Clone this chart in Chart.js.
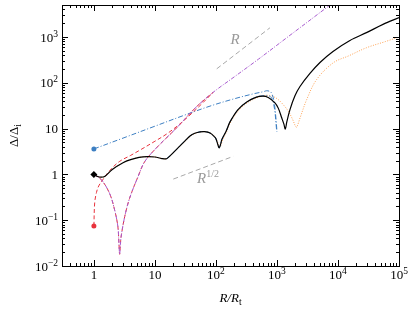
<!DOCTYPE html>
<html>
<head>
<meta charset="utf-8">
<script src="https://cdn.jsdelivr.net/npm/chart.js@4.4.1/dist/chart.umd.min.js"></script>
<style>
  html, body { margin: 0; padding: 0; background: #fff; }
</style>
</head>
<body>
<canvas id="c" width="415" height="313"></canvas>
<script>
// full solution (black)
const blackR = [1, 1.15, 1.3, 1.5, 2, 3, 4, 5.5, 7.5, 10, 13, 15.5, 18, 22, 28, 38, 45, 55, 65, 80, 95, 100, 108, 113, 120, 125, 148, 170, 230, 320, 450, 580, 720, 927, 1050, 1200, 1300, 1370, 1450, 1634, 1972, 2384, 3474, 5070, 8280, 15700, 29900, 54700, 100000];
const blackD = [1, 0.9, 0.87, 0.9, 1.28, 1.8, 2.1, 2.35, 2.45, 2.4, 2.22, 2.2, 2.6, 3.4, 4.7, 7.0, 7.9, 8.5, 8.6, 8.0, 6.6, 6.0, 4.4, 3.8, 4.7, 5.8, 9, 14, 26, 38, 48, 51, 48, 36.5, 28, 17, 12.5, 9.8, 14, 26, 52, 83, 160, 278, 484, 843, 1260, 1890, 2645];

// orange dotted
const orangeR = [1, 1.15, 1.3, 1.5, 2, 3, 4, 5.5, 7.5, 10, 13, 15.5, 18, 22, 28, 38, 45, 55, 65, 80, 95, 100, 108, 115, 122, 128, 150, 170, 230, 320, 450, 600, 750, 900, 1050, 1300, 1535, 1800, 2000, 2100, 2400, 3070, 4470, 8380, 15000, 29500, 60000, 100000];
const orangeD = [1, 0.9, 0.87, 0.9, 1.28, 1.8, 2.1, 2.35, 2.45, 2.4, 2.22, 2.2, 2.6, 3.4, 4.6, 6.8, 7.8, 8.4, 8.6, 8.1, 6.8, 6.2, 4.8, 3.9, 4.5, 5.6, 8.6, 13, 24, 36, 46, 52, 53, 49, 43, 32, 24, 16, 11.5, 10.7, 17.4, 43, 118, 274, 388, 585, 796, 1000];

// blue dash-dot, from the circle
const blueAR = [1, 3, 10, 30, 80, 190, 400, 600, 677, 760, 815, 870, 927, 960, 990, 1000];
const blueAD = [3.6, 6.2, 11.3, 19.5, 31, 44, 57, 64, 67, 65, 60, 47, 28, 17, 10.4, 8.5];

// blue dash-dot, along the black curve
const blueBR = [15.5, 18, 22, 28, 38, 45, 55, 65, 80, 95, 100, 108, 113, 120, 125, 148, 170, 230, 320, 450, 580, 680, 780, 850, 920, 970, 990];
const blueBD = [2.2, 2.6, 3.4, 4.7, 7.0, 7.9, 8.5, 8.6, 8.0, 6.6, 6.0, 4.4, 3.8, 4.7, 5.8, 9, 14, 26, 38, 48.5, 52, 53, 50, 42, 25, 12, 8.7];

// red dashed, rising from the lower circle
const redAR = [1, 1.03, 1.1, 1.2, 1.45, 1.8, 2.6, 4, 5.7, 10, 15.5, 25, 37.5, 55, 90];
const redAD = [0.075, 0.24, 0.4, 0.56, 0.82, 1.2, 1.9, 2.6, 3.4, 5.3, 7.6, 12.3, 19.8, 32, 62];

// red dashed, through the dip
const redBR = [1, 1.32, 1.8, 2.18, 2.47, 2.57, 2.64, 2.72, 2.8, 3.2, 3.84, 5.3, 6.8, 10.6, 22.7, 48, 90];
const redBD = [1, 0.77, 0.39, 0.17, 0.073, 0.032, 0.018, 0.03, 0.045, 0.12, 0.3, 0.9, 1.9, 3.8, 10.4, 30, 62];

// purple dash-dot, same start then ~R
const purpleR = redBR.concat([200, 500, 1500, 7400]);
const purpleD = redBD.concat([135, 330, 1000, 5000]);

// guide slopes
const guideRx = [103, 767], guideRy = [202, 1590];
const guideHx = [20, 192], guideHy = [0.79, 2.48];

// start markers
const markR = [1, 1, 1];
const markD = [1, 3.6, 0.075];

const xTicks = [1, 10, 100, 1000, 10000, 100000];
const xTickText = [['1', ''], ['10', ''], ['10', '2'], ['10', '3'], ['10', '4'], ['10', '5']];
const yTicks = [0.01, 0.1, 1, 10, 100, 1000];
const yTickText = [['10', '\u22122'], ['10', '\u22121'], ['1', ''], ['10', ''], ['10', '2'], ['10', '3']];

const pts = (xs, ys) => xs.map((v, i) => ({x: v, y: ys[i]}));

const SERIF = '"Liberation Serif", "DejaVu Serif", serif';

function supText(ctx, base, sup, x, y, align, bf, sf, rise) {
  ctx.font = bf;
  const wb = ctx.measureText(base).width;
  ctx.font = sf;
  const ws = sup ? ctx.measureText(sup).width : 0;
  const left = align === 'center' ? x - (wb + ws) / 2 : x - (wb + ws);
  ctx.textAlign = 'left';
  ctx.font = bf;
  ctx.fillText(base, left, y);
  if (sup) {
    ctx.font = sf;
    ctx.fillText(sup, left + wb, y - rise);
  }
}

const frame = {
  id: 'frame',
  afterDraw(chart) {
    const {ctx, chartArea: a, scales: {x, y}} = chart;
    ctx.save();
    ctx.strokeStyle = '#000';
    ctx.lineWidth = 1;
    ctx.strokeRect(Math.round(a.left) + 0.5, Math.round(a.top) + 0.5, Math.round(a.right - a.left), Math.round(a.bottom - a.top));
    ctx.beginPath();
    for (let d = -3; d <= 5; d++) {
      for (let m = 1; m <= 9; m++) {
        const v = m * Math.pow(10, d);
        const len = m === 1 ? 6 : 3;
        if (v >= x.min && v <= x.max) {
          const px = Math.round(x.getPixelForValue(v)) + 0.5;
          ctx.moveTo(px, a.bottom); ctx.lineTo(px, a.bottom - len);
          ctx.moveTo(px, a.top); ctx.lineTo(px, a.top + len);
        }
        if (v >= y.min && v <= y.max) {
          const py = Math.round(y.getPixelForValue(v)) + 0.5;
          ctx.moveTo(a.left, py); ctx.lineTo(a.left + len, py);
          ctx.moveTo(a.right, py); ctx.lineTo(a.right - len, py);
        }
      }
    }
    ctx.stroke();

    ctx.fillStyle = '#000';
    const bf = '13px ' + SERIF, sf = '9.5px ' + SERIF;
    xTicks.forEach((v, i) => {
      supText(ctx, xTickText[i][0], xTickText[i][1], x.getPixelForValue(v), a.bottom + 13, 'center', bf, sf, 5);
    });
    yTicks.forEach((v, i) => {
      supText(ctx, yTickText[i][0], yTickText[i][1], a.left - 4, y.getPixelForValue(v) + 4.5, 'right', bf, sf, 5);
    });

    // axis titles
    const tf = 'italic 13px ' + SERIF, subf = '9.5px ' + SERIF;
    ctx.font = tf;
    const w1 = ctx.measureText('R/R').width;
    ctx.font = subf;
    const w2 = ctx.measureText('t').width;
    const cx = (a.left + a.right) / 2;
    ctx.font = tf; ctx.textAlign = 'left';
    ctx.fillText('R/R', cx - (w1 + w2) / 2, 302);
    ctx.font = subf;
    ctx.fillText('t', cx - (w1 + w2) / 2 + w1, 305);

    ctx.save();
    ctx.translate(18, (a.top + a.bottom) / 2);
    ctx.rotate(-Math.PI / 2);
    ctx.font = '13px ' + SERIF;
    const w3 = ctx.measureText('\u0394/\u0394').width;
    ctx.font = subf;
    const w4 = ctx.measureText('i').width;
    ctx.font = '13px ' + SERIF;
    ctx.fillText('\u0394/\u0394', -(w3 + w4) / 2, 0);
    ctx.font = subf;
    ctx.fillText('i', -(w3 + w4) / 2 + w3, 3);
    ctx.restore();

    // slope labels
    ctx.fillStyle = '#9a9a9a';
    ctx.font = 'italic 15px ' + SERIF;
    ctx.textAlign = 'center';
    ctx.fillText('R', x.getPixelForValue(205), y.getPixelForValue(885) + 5);
    supText(ctx, 'R', '1/2', x.getPixelForValue(74), y.getPixelForValue(0.85) + 5, 'center', 'italic 15px ' + SERIF, '10px ' + SERIF, 6);
    ctx.restore();
  }
};

const line = (data, color, width, dash, extra) => Object.assign({
  data: data,
  showLine: true,
  borderColor: color,
  borderWidth: width,
  borderDash: dash,
  pointRadius: 0,
  fill: false,
  tension: 0.35
}, extra || {});

new Chart(document.getElementById('c'), {
  type: 'scatter',
  data: {
    datasets: [
      {
        data: pts(markR, markD),
        showLine: false,
        pointRadius: [3.5, 2.5, 2.5],
        pointStyle: ['rectRot', 'circle', 'circle'],
        backgroundColor: ['#000', '#3d7fc2', '#e8323c'],
        borderColor: ['#000', '#3d7fc2', '#e8323c'],
        borderWidth: 0
      },
      line(pts(blackR, blackD), '#000', 1.2, []),
      line(pts(purpleR, purpleD), '#a85ccf', 1, [4, 1.5, 1, 1.5]),
      line(pts(redAR, redAD), '#e8323c', 1, [4, 2.5]),
      line(pts(redBR, redBD), '#e8323c', 1, [4, 2.5]),
      line(pts(blueAR, blueAD), '#3d7fc2', 1, [5, 2, 1, 2]),
      line(pts(blueBR, blueBD), '#3d7fc2', 1, [5, 2, 1, 2]),
      line(pts(orangeR, orangeD), '#ffa050', 1, [1, 1.5]),
      line(pts(guideRx, guideRy), '#a8a8a8', 1, [5, 3], {tension: 0}),
      line(pts(guideHx, guideHy), '#a8a8a8', 1, [5, 3], {tension: 0})
    ]
  },
  options: {
    responsive: false,
    animation: false,
    devicePixelRatio: 1,
    layout: { padding: { top: 5, right: 16, left: 0, bottom: 0 } },
    plugins: { legend: { display: false }, tooltip: { enabled: false } },
    scales: {
      x: {
        type: 'logarithmic', min: 0.3, max: 100000,
        grid: { display: false },
        border: { display: false },
        ticks: { display: false },
        afterFit: s => { s.height = 47; }
      },
      y: {
        type: 'logarithmic', min: 0.01, max: 5000,
        grid: { display: false },
        border: { display: false },
        ticks: { display: false },
        afterFit: s => { s.width = 62; }
      }
    }
  },
  plugins: [frame]
});
</script>
</body>
</html>
